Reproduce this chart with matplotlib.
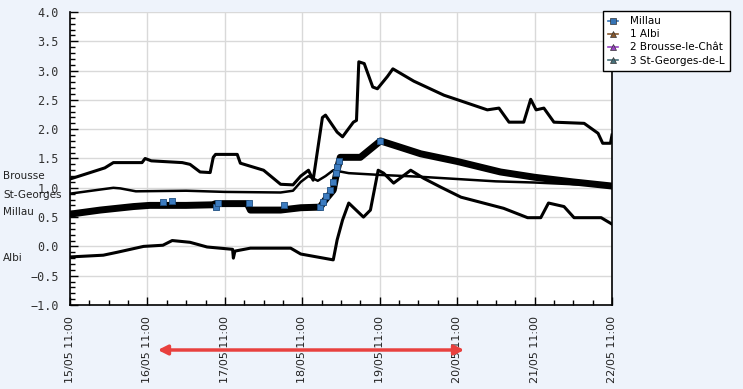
import numpy as np
import matplotlib
matplotlib.use('Agg')
import matplotlib.pyplot as plt
from matplotlib.lines import Line2D
from matplotlib.ticker import MultipleLocator
import matplotlib.transforms as mtransforms

# time axis: days after 15/05 11:00
day_labels = ['15/05 11:00', '16/05 11:00', '17/05 11:00', '18/05 11:00',
              '19/05 11:00', '20/05 11:00', '21/05 11:00', '22/05 11:00']

brousse_t = [0, 0.19, 0.45, 0.56, 0.93, 0.97, 1.05, 1.45, 1.55, 1.68, 1.81, 1.85, 1.88,
             2.16, 2.20, 2.50, 2.72, 2.88, 2.98, 3.08, 3.14, 3.26, 3.30, 3.45, 3.52, 3.66,
             3.70, 3.73, 3.80, 3.91, 3.97, 4.10, 4.17, 4.44, 4.83, 5.01, 5.39, 5.54, 5.67,
             5.86, 5.95, 6.02, 6.12, 6.25, 6.64, 6.82, 6.88, 6.98, 7.0]
brousse_v = [1.15, 1.23, 1.34, 1.43, 1.43, 1.50, 1.46, 1.43, 1.40, 1.27, 1.26, 1.52, 1.57,
             1.57, 1.42, 1.30, 1.06, 1.05, 1.20, 1.30, 1.13, 2.20, 2.24, 1.95, 1.87, 2.12,
             2.15, 3.15, 3.12, 2.72, 2.69, 2.90, 3.03, 2.82, 2.58, 2.50, 2.33, 2.36, 2.12,
             2.12, 2.51, 2.33, 2.36, 2.12, 2.10, 1.93, 1.76, 1.76, 1.90]

stgeorges_t = [0, 0.39, 0.56, 0.65, 0.85, 1.5, 2.0, 2.72, 2.88, 2.98, 3.08, 3.20, 3.30,
               3.40, 3.60, 4.0, 4.5, 5.0, 5.5, 6.0, 6.5, 7.0]
stgeorges_v = [0.90, 0.97, 1.00, 0.99, 0.94, 0.95, 0.93, 0.92, 0.95, 1.10, 1.20, 1.12, 1.20,
               1.30, 1.25, 1.22, 1.19, 1.15, 1.11, 1.09, 1.06, 1.04]

millau_t = [0, 0.39, 0.82, 1.03, 1.5, 1.85, 1.88, 2.29, 2.33, 2.72, 2.98, 3.23, 3.30, 3.40,
            3.45, 3.49, 3.75, 4.01, 4.20, 4.53, 5.0, 5.56, 6.0, 6.5, 7.0]
millau_v = [0.55, 0.62, 0.68, 0.70, 0.70, 0.71, 0.73, 0.73, 0.62, 0.62, 0.66, 0.67, 0.80, 0.96,
            1.30, 1.52, 1.52, 1.80, 1.72, 1.58, 1.45, 1.27, 1.18, 1.10, 1.03]

# Millau points drawn with the blue square marker
millau_sq_t = [1.20, 1.32, 1.88, 1.91, 2.31, 2.76, 3.23, 3.27, 3.31, 3.36, 3.40, 3.43, 3.45, 3.48, 4.01]
millau_sq_v = [0.75, 0.78, 0.67, 0.74, 0.74, 0.70, 0.68, 0.76, 0.86, 0.97, 1.10, 1.25, 1.36, 1.46, 1.80]

albi_t = [0, 0.43, 0.61, 0.95, 1.2, 1.32, 1.55, 1.77, 2.10, 2.11, 2.13, 2.33, 2.85, 2.98,
          3.40, 3.45, 3.52, 3.60, 3.79, 3.88, 3.98, 4.05, 4.18, 4.40, 4.57, 4.79, 5.05, 5.60,
          5.91, 6.08, 6.18, 6.38, 6.51, 6.86, 7.0]
albi_v = [-0.18, -0.15, -0.10, 0.0, 0.02, 0.10, 0.07, -0.01, -0.05, -0.20, -0.08, -0.03, -0.03,
          -0.13, -0.23, 0.11, 0.45, 0.74, 0.50, 0.62, 1.30, 1.25, 1.08, 1.30, 1.16, 1.01, 0.84,
          0.65, 0.49, 0.49, 0.74, 0.68, 0.49, 0.49, 0.38]

legend_names = ['Millau', '1 Albi', '2 Brousse-le-Chât', '3 St-Georges-de-L']
legend_colors = ['#3573b5', '#8a5a2e', '#9a44c4', '#46707a']
legend_markers = ['s', '^', '^', '^']

side_names = ['Brousse', 'St-Georges', 'Millau', 'Albi']
side_y = [1.20, 0.88, 0.59, -0.20]

fig = plt.figure(figsize=(7.43, 3.89), dpi=100, facecolor='#eef3fb')
ax = fig.add_axes([70/743, 1 - 305/389, 542/743, 293/389])
ax.set_facecolor('white')

ax.plot(brousse_t, brousse_v, color='black', lw=2.2)
ax.plot(stgeorges_t, stgeorges_v, color='black', lw=1.8)
ax.plot(albi_t, albi_v, color='black', lw=2.2)
ax.plot(millau_t, millau_v, color='black', lw=5)
ax.scatter(millau_sq_t, millau_sq_v, marker='s', s=22, facecolor='#3d7cc0',
           edgecolor='#1f4e80', lw=0.6, zorder=3)

ax.set_xlim(0, 7)
ax.set_ylim(-1, 4)
ax.set_xticks(range(len(day_labels)))
ax.set_xticklabels(day_labels, rotation=90, fontsize=8, color='#222222')
ax.xaxis.set_minor_locator(MultipleLocator(0.25))
ax.yaxis.set_major_locator(MultipleLocator(0.5))
ax.yaxis.set_minor_locator(MultipleLocator(0.1))
for lab in ax.get_yticklabels():
    lab.set_fontfamily('DejaVu Sans Mono')
ax.tick_params(axis='y', labelsize=8.5, labelcolor='#333333')
ax.tick_params(which='major', direction='in', length=6, width=1, color='black')
ax.tick_params(which='minor', direction='in', length=3.5, width=1, color='black')
ax.tick_params(axis='y', pad=8)
ax.tick_params(axis='x', pad=8)
ax.grid(True, which='major', color='#d9d9d9', lw=1)
ax.set_axisbelow(True)
ax.spines['top'].set_visible(False)
for s in ['left', 'bottom', 'right']:
    ax.spines[s].set_color('black')
    ax.spines[s].set_linewidth(1.2)

trans = mtransforms.blended_transform_factory(fig.transFigure, ax.transData)
for name, y in zip(side_names, side_y):
    ax.text(0.004, y, name, transform=trans, fontsize=7.5, va='center', ha='left',
            color='#222222', clip_on=False)

handles = [Line2D([0], [0], color=c, marker=m, markersize=5, lw=1.2,
                  markeredgecolor='#333333', markeredgewidth=0.5)
           for c, m in zip(legend_colors, legend_markers)]
leg = fig.legend(handles, legend_names, loc='upper left', bbox_to_anchor=(603/743, 1 - 11/389),
                 bbox_transform=fig.transFigure, fontsize=7.5, handlelength=0.9,
                 handletextpad=1.2, borderpad=0.5, labelspacing=0.3, borderaxespad=0,
                 fancybox=False, framealpha=1, edgecolor='black')
leg.get_frame().set_linewidth(1)

ax.annotate('', xy=(467/743, 1 - 350/389), xytext=(155/743, 1 - 350/389),
            xycoords='figure fraction', textcoords='figure fraction',
            arrowprops=dict(arrowstyle='<|-|>', color='#e8403e', lw=2.5, mutation_scale=14),
            annotation_clip=False)

fig.savefig('out.png', dpi=100, facecolor=fig.get_facecolor())
